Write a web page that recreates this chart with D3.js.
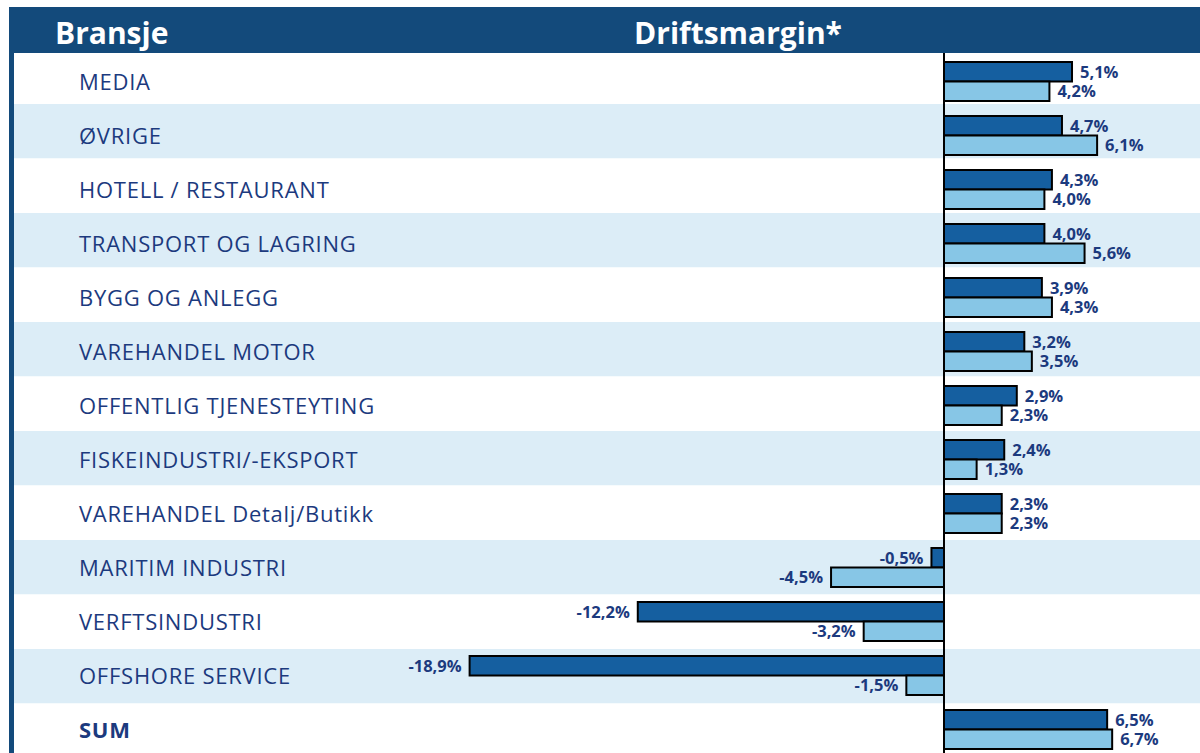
<!DOCTYPE html>
<html>
<head>
<meta charset="utf-8">
<script src="https://cdn.jsdelivr.net/npm/d3@7"></script>
<style>
  body { margin: 0; background: #fff; }
  text { font-family: "Open Sans", sans-serif; }
</style>
</head>
<body>
<svg id="svg" width="1200" height="753"></svg>
<script>
var categories = ["MEDIA", "ØVRIGE", "HOTELL / RESTAURANT", "TRANSPORT OG LAGRING",
  "BYGG OG ANLEGG", "VAREHANDEL MOTOR", "OFFENTLIG TJENESTEYTING", "FISKEINDUSTRI/-EKSPORT",
  "VAREHANDEL Detalj/Butikk", "MARITIM INDUSTRI", "VERFTSINDUSTRI", "OFFSHORE SERVICE", "SUM"];
var current = [5.1, 4.7, 4.3, 4.0, 3.9, 3.2, 2.9, 2.4, 2.3, -0.5, -12.2, -18.9, 6.5];
var previous = [4.2, 6.1, 4.0, 5.6, 4.3, 3.5, 2.3, 1.3, 2.3, -4.5, -3.2, -1.5, 6.7];
var series = ["current", "previous"];
var headers = ["Bransje", "Driftsmargin*"];

var svg = d3.select("#svg");
var width = 1200, height = 753;
var navy = "#134a7b", textBlue = "#1c3a7e";

// background stripes and bar rows are spaced slightly differently in the original
var bandY = d3.scaleBand().domain(categories).range([49.5, 758]);
var y = d3.scaleBand().domain(categories).range([53.5, 755.5]);
var sub = d3.scaleBand().domain(series).range([8.5, 47.5]);
var x = d3.scaleLinear().domain([-20, 8]).range([944 - 20 * 25.1, 944 + 8 * 25.1]);

var rows = categories.map(function(c, i) {
  return { name: c, i: i, vals: [current[i], previous[i]] };
});

// row bands
svg.selectAll("rect.band").data(rows).enter().append("rect")
  .attr("class", "band")
  .attr("x", 14).attr("width", width - 14)
  .attr("y", function(d) { return bandY(d.name); })
  .attr("height", bandY.bandwidth())
  .attr("fill", function(d) { return d.i % 2 ? "#dcedf7" : "#fff"; });

// header
svg.append("rect").attr("x", 9).attr("y", 7).attr("width", width - 9).attr("height", 46).attr("fill", navy);
svg.append("rect").attr("x", 9).attr("y", 7).attr("width", 5).attr("height", height - 7).attr("fill", navy);
svg.append("text").attr("x", 55).attr("y", 44).attr("fill", "#fff")
  .attr("font-size", 30).attr("font-weight", "bold").text(headers[0]);
svg.append("text").attr("x", 738).attr("y", 44).attr("fill", "#fff").attr("text-anchor", "middle")
  .attr("font-size", 30).attr("font-weight", "bold").text(headers[1]);

// category labels
svg.selectAll("text.cat").data(rows).enter().append("text")
  .attr("class", "cat")
  .attr("x", 79)
  .attr("y", function(d) { return y(d.name) + 28.5; })
  .attr("dy", "0.36em")
  .attr("fill", textBlue)
  .attr("font-size", 22)
  .attr("letter-spacing", 0.75)
  .attr("font-weight", function(d) { return d.name === "SUM" ? "bold" : "normal"; })
  .text(function(d) { return d.name; });

// bars
var pairs = [];
rows.forEach(function(r) {
  series.forEach(function(s, j) { pairs.push({ name: r.name, s: s, v: r.vals[j] }); });
});

svg.selectAll("rect.bar").data(pairs).enter().append("rect")
  .attr("class", "bar")
  .attr("x", function(d) { return x(Math.min(0, d.v)); })
  .attr("width", function(d) { return Math.abs(x(d.v) - x(0)); })
  .attr("y", function(d) { return y(d.name) + sub(d.s); })
  .attr("height", sub.bandwidth())
  .attr("fill", function(d) { return d.s === "current" ? "#155fa0" : "#87c6e6"; })
  .attr("stroke", "#000")
  .attr("stroke-width", 2);

svg.selectAll("text.val").data(pairs).enter().append("text")
  .attr("class", "val")
  .attr("x", function(d) { return d.v < 0 ? x(d.v) - 8 : x(d.v) + 8; })
  .attr("y", function(d) { return y(d.name) + sub(d.s) + sub.bandwidth() / 2; })
  .attr("dy", "0.36em")
  .attr("text-anchor", function(d) { return d.v < 0 ? "end" : "start"; })
  .attr("fill", textBlue)
  .attr("font-size", 16.5)
  .attr("font-weight", "bold")
  .text(function(d) { return d.v.toFixed(1).replace(".", ",") + "%"; });

// zero line
svg.append("line")
  .attr("x1", x(0)).attr("x2", x(0))
  .attr("y1", 53).attr("y2", height)
  .attr("stroke", "#000").attr("stroke-width", 2);
</script>
</body>
</html>
